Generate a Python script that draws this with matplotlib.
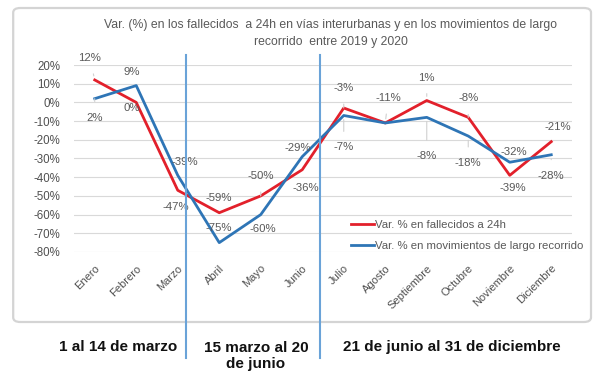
import matplotlib.pyplot as plt
from matplotlib.patches import FancyBboxPatch
from matplotlib.lines import Line2D

meses = ['Enero', 'Febrero', 'Marzo', 'Abril', 'Mayo', 'Junio', 'Julio',
         'Agosto', 'Septiembre', 'Octubre', 'Noviembre', 'Diciembre']
fallecidos = [12, 0, -47, -59, -50, -36, -3, -11, 1, -8, -39, -21]
movimientos = [2, 9, -39, -75, -60, -29, -7, -11, -8, -18, -32, -28]
yticks = [20, 10, 0, -10, -20, -30, -40, -50, -60, -70, -80]
periodos = ['1 al 14 de marzo', '15 marzo al 20\nde junio', '21 de junio al 31 de diciembre']

# label offsets in pixels (x, y); None = no label (Agosto labels coincide)
off_rojo = [(-5, 22), (-5, -6), (-2, -17), (0, 15), (0, 20), (4, -18),
            (0, 20), (3, 25), (0, 23), (0, 19), (3, -13), (7, 15)]
off_azul = [(0, -19), (-4, 14), (7, 13), (0, 15), (2, -14), (-4, 9),
            (0, -32), None, (0, -39), (0, -27), (4, 10), (0, -21)]

rojo = '#E2202B'
azul = '#2E75B6'
gris = '#595959'

plt.rcParams['font.family'] = ['Liberation Sans', 'DejaVu Sans']

fig = plt.figure(figsize=(6, 3.8), dpi=100)
ax = fig.add_axes([74 / 600, 1 - 252 / 380, 498 / 600, 187 / 380])

# chart frame
fig.patches.append(FancyBboxPatch((0.022, 1 - 322 / 380), 0.963, 314 / 380,
                                  boxstyle='round,pad=0,rounding_size=0.012',
                                  transform=fig.transFigure, fc='white',
                                  ec='#D4D4D4', lw=1.6, zorder=-5))

x = list(range(len(meses)))
ax.plot(x, fallecidos, color=rojo, lw=2, label='Var. % en fallecidos a 24h', zorder=3)
ax.plot(x, movimientos, color=azul, lw=2, label='Var. % en movimientos de largo recorrido', zorder=3)

for serie, offs in ((fallecidos, off_rojo), (movimientos, off_azul)):
    for i, v in enumerate(serie):
        if offs[i] is None:
            continue
        dx, dy = offs[i]
        lead = abs(dy) > 18
        ax.annotate(f'{v}%', (i, v), xytext=(dx, dy), textcoords='offset pixels',
                    ha='center', va='center', fontsize=8.2, color=gris,
                    arrowprops=dict(arrowstyle='-', color='#D0D0D0', lw=0.8,
                                    shrinkA=6, shrinkB=3) if lead else None,
                    zorder=4)

ax.set_xlim(-0.5, 11.5)
ax.set_ylim(-80, 20)
ax.set_yticks(yticks)
ax.set_yticklabels([f'{t}%' for t in yticks], fontsize=8.3, color='#505050')
ax.set_xticks(x)
ax.set_xticklabels(meses, rotation=45, ha='right', va='top', rotation_mode='anchor',
                   fontsize=8, color='#505050')
ax.tick_params(axis='y', length=0, pad=10)
ax.tick_params(axis='x', length=0, pad=8)
ax.grid(axis='y', color='#D9D9D9', lw=0.8)
ax.set_axisbelow(True)
for s in ax.spines.values():
    s.set_visible(False)
ax.patch.set_alpha(0)

fig.text(331 / 600, 1 - 33.5 / 380,
         'Var. (%) en los fallecidos  a 24h en vías interurbanas y en los movimientos de largo\nrecorrido  entre 2019 y 2020',
         ha='center', va='center', fontsize=8.8, color=gris, linespacing=1.45)

ax.legend(loc='upper left', bbox_to_anchor=(341 / 600, 1 - 210 / 380),
          bbox_transform=fig.transFigure, frameon=False, fontsize=8.2,
          labelcolor=gris, handlelength=2.0, handletextpad=0.1, labelspacing=0.9)

# period separators
for xf in (186 / 600, 320 / 600):
    fig.add_artist(Line2D([xf, xf], [1 - 55 / 380, 1 - 358 / 380],
                          color='#6AA3D8', lw=1.5, zorder=5))

fig.text(118 / 600, 1 - 347 / 380, periodos[0], ha='center', va='center',
         fontsize=11, fontweight='bold', color='#111111')
fig.text(256 / 600, 1 - 356 / 380, periodos[1], ha='center', va='center',
         fontsize=11, fontweight='bold', color='#111111', linespacing=1.2)
fig.text(452 / 600, 1 - 347 / 380, periodos[2], ha='center', va='center',
         fontsize=11, fontweight='bold', color='#111111')

plt.savefig('out.png', dpi=100)
